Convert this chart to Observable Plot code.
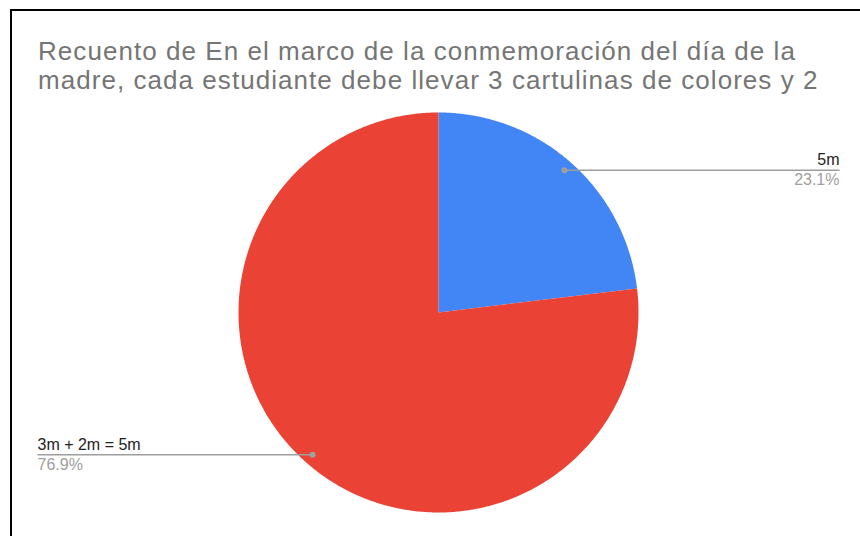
<!DOCTYPE html>
<html>
<head>
<meta charset="utf-8">
<script src="https://cdn.jsdelivr.net/npm/d3@7"></script>
<script src="https://cdn.jsdelivr.net/npm/@observablehq/plot@0.6"></script>
<style>
  html, body { margin: 0; padding: 0; background: #fff; }
  #wrap { position: relative; width: 860px; height: 536px; overflow: hidden; font-family: "Liberation Sans", Arial, sans-serif; }
  #frame { position: absolute; left: 10px; top: 9px; width: 900px; height: 600px; border: 2.5px solid #000; box-sizing: border-box; }
  #title { position: absolute; left: 38px; top: 37px; font-size: 26px; line-height: 29.2px; letter-spacing: 1.05px; color: #757575; white-space: nowrap; }
  #chart { position: absolute; left: 0; top: 0; }
</style>
</head>
<body>
<div id="wrap">
  <div id="frame"></div>
  <div id="chart"></div>
  <div id="title"></div>
</div>
<script>
const titleLines = [
  "Recuento de En el marco de la conmemoración del día de la",
  "madre, cada estudiante debe llevar 3 cartulinas de colores y 2"
];
const categories = ["5m", "3m + 2m = 5m"];
const counts = [3, 10];
const colors = ["#4285f4", "#ea4335"];

document.getElementById("title").innerHTML = titleLines.join("<br>");

const W = 860, H = 536;
const cx = 438, cy = 312, R = 200;

const total = d3.sum(counts);
const pie = d3.pie().sort(null).value(d => d.value)(categories.map((name, i) => ({name, value: counts[i]})));

// slice polygons
const pts = [];
pie.forEach(s => {
  pts.push({name: s.data.name, x: cx, y: cy});
  const n = Math.max(2, Math.ceil((s.endAngle - s.startAngle) / (Math.PI / 360)));
  for (let k = 0; k <= n; k++) {
    const a = s.startAngle + (s.endAngle - s.startAngle) * k / n;
    pts.push({name: s.data.name, x: cx + R * Math.sin(a), y: cy - R * Math.cos(a)});
  }
  pts.push({name: s.data.name, x: cx, y: cy});
});

// label callouts
const labels = pie.map(s => {
  const a = (s.startAngle + s.endAngle) / 2;
  const dx = cx + 0.95 * R * Math.sin(a), dy = cy - 0.95 * R * Math.cos(a);
  const right = Math.sin(a) >= 0;
  const ex = right ? 839 : 37;
  return {
    name: s.data.name,
    pct: (s.data.value / total * 100).toFixed(1) + "%",
    x1: dx, x2: ex, y: dy, ex, anchor: right ? "end" : "start"
  };
});

const fs = 16;
const plot = Plot.plot({
  width: W, height: H,
  margin: 0,
  x: {domain: [0, W], range: [0, W], axis: null},
  y: {domain: [0, H], range: [0, H], axis: null},
  color: {domain: categories, range: colors},
  style: {fontFamily: "'Liberation Sans', Arial, sans-serif", background: "transparent"},
  marks: [
    Plot.line(pts, {x: "x", y: "y", z: "name", fill: "name", stroke: "none", curve: "linear"}),
    Plot.link(labels, {x1: "x1", x2: "x2", y1: "y", y2: "y", stroke: "#9e9e9e", strokeWidth: 1.5}),
    Plot.dot(labels, {x: "x1", y: "y", r: 3, fill: "#9e9e9e", stroke: "none"}),
    Plot.text(labels.filter(d => d.anchor === "end"), {x: "ex", y: "y", text: "name", textAnchor: "end", dy: -10, fontSize: fs, fill: "#222"}),
    Plot.text(labels.filter(d => d.anchor === "end"), {x: "ex", y: "y", text: "pct", textAnchor: "end", dy: 10, fontSize: fs, fill: "#9e9e9e"}),
    Plot.text(labels.filter(d => d.anchor === "start"), {x: "ex", y: "y", text: "name", textAnchor: "start", dy: -10, fontSize: fs, fill: "#222", style: {letterSpacing: "0.4px"}}),
    Plot.text(labels.filter(d => d.anchor === "start"), {x: "ex", y: "y", text: "pct", textAnchor: "start", dy: 10, fontSize: fs, fill: "#9e9e9e"})
  ]
});
document.getElementById("chart").appendChild(plot);
</script>
</body>
</html>
